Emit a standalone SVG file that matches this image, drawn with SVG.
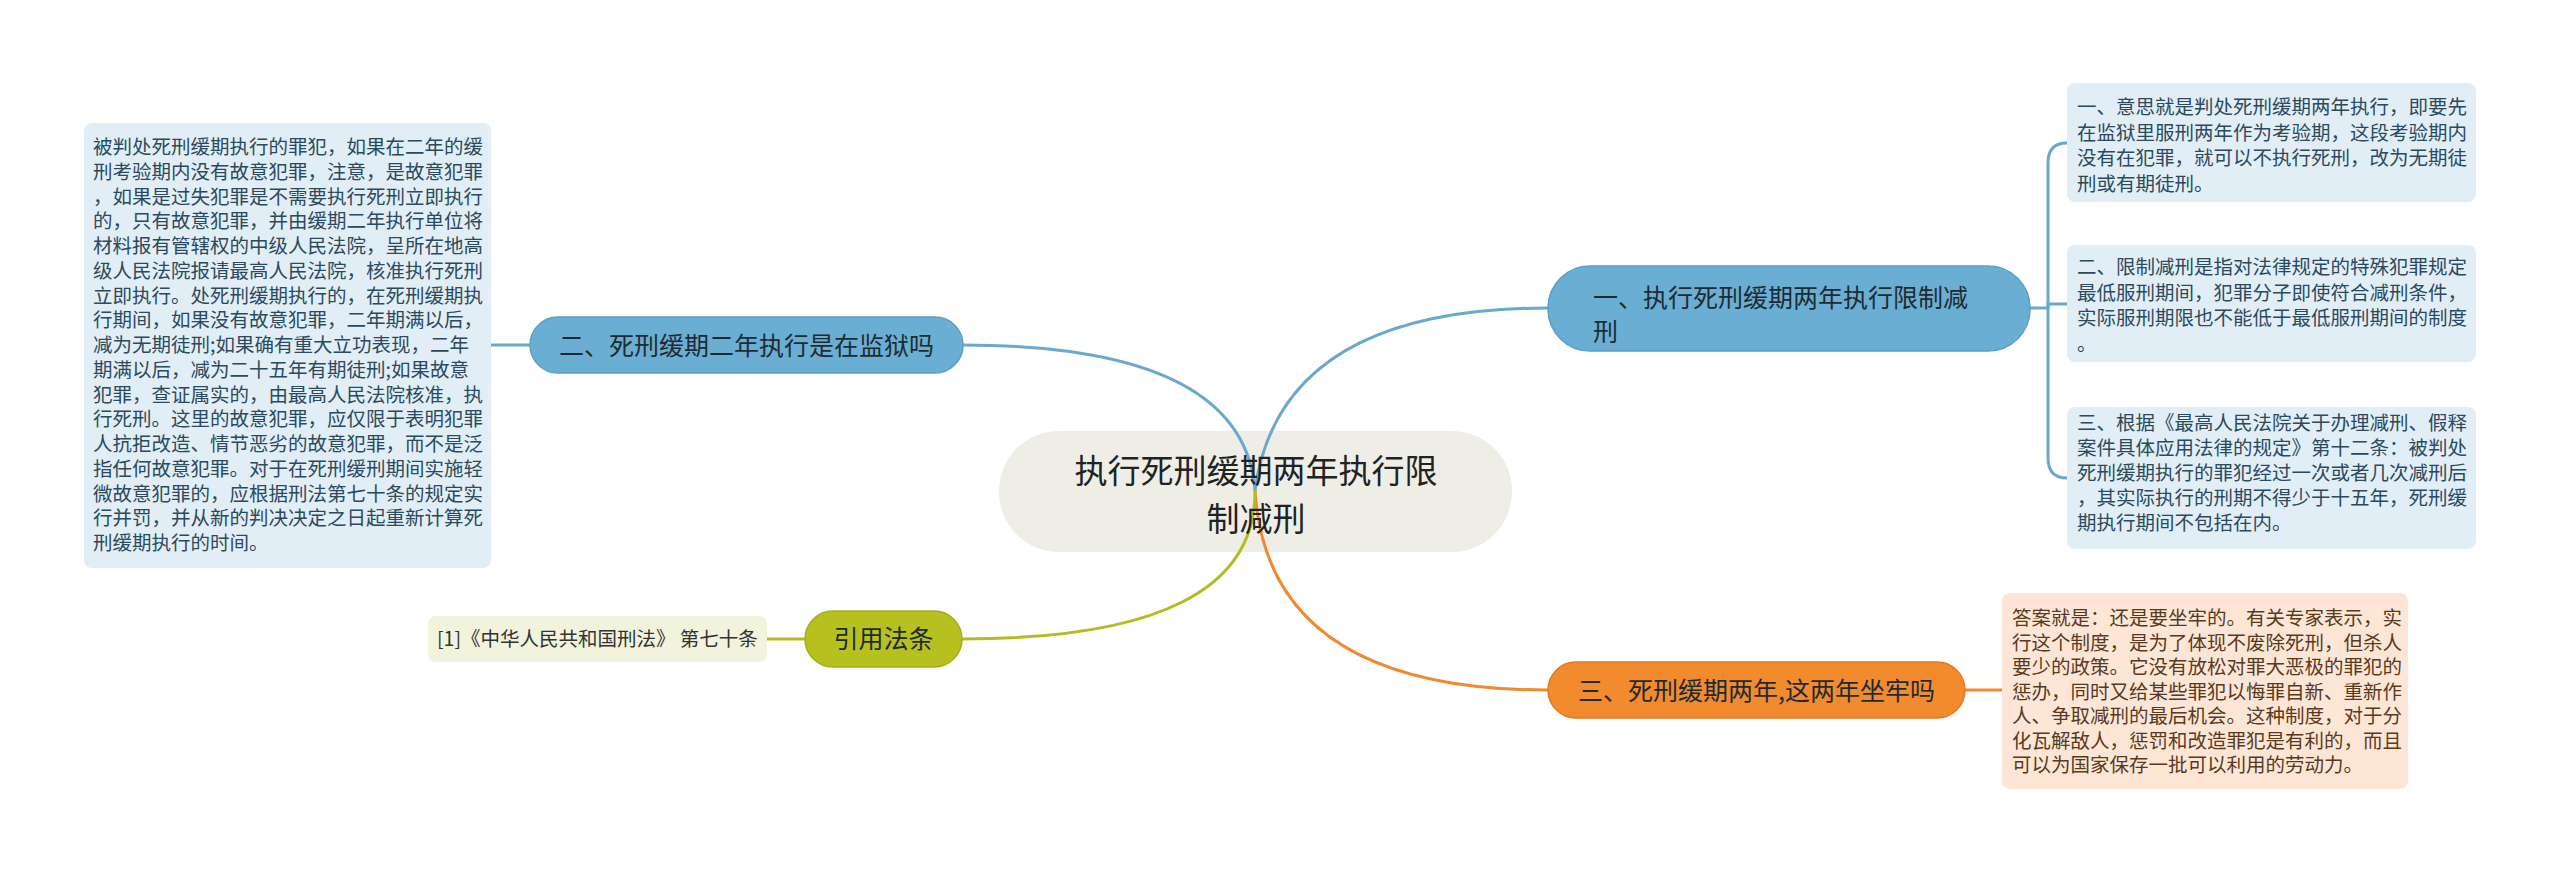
<svg xmlns="http://www.w3.org/2000/svg" width="2560" height="872" viewBox="0 0 2560 872">
<style>
text{font-family:"Noto Sans CJK SC","Noto Sans",sans-serif;}
.rootbox{fill:#eeeee6;}
.roottxt{font-size:33px;fill:#222;text-anchor:middle;}
.bnode{fill:#6aafd3;stroke:#5b9fc6;stroke-width:1.5;}
.gnode{fill:#b6c01e;stroke:#a5ae18;stroke-width:1.5;}
.onode{fill:#f28a2e;stroke:#e47a1e;stroke-width:1.5;}
.ntxt{font-size:25px;fill:#1f2b33;}
.c{text-anchor:middle;}
.bleaf{fill:#e1eef6;}
.gleaf{fill:#f1f3dc;}
.oleaf{fill:#fde6d6;}
.ltxt{font-size:19.5px;fill:#2b4a5e;}
.otxt{font-size:19.5px;fill:#5a3a1e;}
.gtxt{font-size:19.5px;fill:#333;}
.lb{fill:none;stroke:#6aa8cc;stroke-width:3;}
.lo{fill:none;stroke:#f08a2e;stroke-width:3;}
.lg{fill:none;stroke:#b3bd1f;stroke-width:3;}
</style>
<rect width="2560" height="872" fill="#ffffff"/>
<g id="root">
<rect class="rootbox" x="999" y="431" width="513" height="121" rx="60"/>
</g>
<g id="connectors">
<path class="lb" d="M1255 490 Q1280 308 1548 308"/>
<path class="lb" d="M1255 490 Q1243 345 963 345"/>
<path class="lo" d="M1255 490 Q1267 690 1548 690"/>
<path class="lg" d="M1255 490 Q1257 639 962 639"/>
<path class="lb" d="M2030 308 H2048"/>
<path class="lb" d="M2048 308 V163 Q2048 143 2067 143"/>
<path class="lb" d="M2048 308 V304 H2067"/>
<path class="lb" d="M2048 308 V458 Q2048 478 2067 478"/>
<path class="lb" d="M530 345 H491"/>
<path class="lg" d="M805 639 H767"/>
<path class="lo" d="M1965 690 H2002"/>
</g>
<g id="root-label">
<text class="roottxt" x="1256" y="483">执行死刑缓期两年执行限</text>
<text class="roottxt" x="1256" y="531">制减刑</text>
</g>
<g id="node1">
<rect class="bnode" x="1548" y="266" width="482" height="85" rx="42"/>
<text class="ntxt" x="1593" y="307">一、执行死刑缓期两年执行限制减</text>
<text class="ntxt" x="1593" y="340.5">刑</text>
</g>
<g id="node2">
<rect class="bnode" x="530" y="317" width="433" height="56" rx="28"/>
<text class="ntxt c" x="746.5" y="355">二、死刑缓期二年执行是在监狱吗</text>
</g>
<g id="node3">
<rect class="onode" x="1548" y="662" width="417" height="56" rx="28"/>
<text class="ntxt c" x="1756.5" y="700">三、死刑缓期两年,这两年坐牢吗</text>
</g>
<g id="node4">
<rect class="gnode" x="805" y="611" width="157" height="56" rx="28"/>
<text class="ntxt c" x="883.5" y="648">引用法条</text>
</g>
<g id="leaf-left">
<rect class="bleaf" x="84" y="123" width="407" height="445" rx="8"/>
<text class="ltxt" x="93">
<tspan x="93" y="154">被判处死刑缓期执行的罪犯，如果在二年的缓</tspan>
<tspan x="93" y="178.75">刑考验期内没有故意犯罪，注意，是故意犯罪</tspan>
<tspan x="93" y="203.5">，如果是过失犯罪是不需要执行死刑立即执行</tspan>
<tspan x="93" y="228.25">的，只有故意犯罪，并由缓期二年执行单位将</tspan>
<tspan x="93" y="253">材料报有管辖权的中级人民法院，呈所在地高</tspan>
<tspan x="93" y="277.75">级人民法院报请最高人民法院，核准执行死刑</tspan>
<tspan x="93" y="302.5">立即执行。处死刑缓期执行的，在死刑缓期执</tspan>
<tspan x="93" y="327.25">行期间，如果没有故意犯罪，二年期满以后，</tspan>
<tspan x="93" y="352">减为无期徒刑;如果确有重大立功表现，二年</tspan>
<tspan x="93" y="376.75">期满以后，减为二十五年有期徒刑;如果故意</tspan>
<tspan x="93" y="401.5">犯罪，查证属实的，由最高人民法院核准，执</tspan>
<tspan x="93" y="426.25">行死刑。这里的故意犯罪，应仅限于表明犯罪</tspan>
<tspan x="93" y="451">人抗拒改造、情节恶劣的故意犯罪，而不是泛</tspan>
<tspan x="93" y="475.75">指任何故意犯罪。对于在死刑缓刑期间实施轻</tspan>
<tspan x="93" y="500.5">微故意犯罪的，应根据刑法第七十条的规定实</tspan>
<tspan x="93" y="525.25">行并罚，并从新的判决决定之日起重新计算死</tspan>
<tspan x="93" y="550">刑缓期执行的时间。</tspan>
</text>
</g>
<g id="leaf-r1">
<rect class="bleaf" x="2067" y="83" width="409" height="119" rx="8"/>
<text class="ltxt">
<tspan x="2077" y="114">一、意思就是判处死刑缓期两年执行，即要先</tspan>
<tspan x="2077" y="139.5">在监狱里服刑两年作为考验期，这段考验期内</tspan>
<tspan x="2077" y="165">没有在犯罪，就可以不执行死刑，改为无期徒</tspan>
<tspan x="2077" y="190.5">刑或有期徒刑。</tspan>
</text>
</g>
<g id="leaf-r2">
<rect class="bleaf" x="2067" y="245" width="409" height="117" rx="8"/>
<text class="ltxt">
<tspan x="2077" y="274">二、限制减刑是指对法律规定的特殊犯罪规定</tspan>
<tspan x="2077" y="299.5">最低服刑期间，犯罪分子即使符合减刑条件，</tspan>
<tspan x="2077" y="325">实际服刑期限也不能低于最低服刑期间的制度</tspan>
<tspan x="2077" y="350.5">。</tspan>
</text>
</g>
<g id="leaf-r3">
<rect class="bleaf" x="2067" y="407" width="409" height="142" rx="8"/>
<text class="ltxt">
<tspan x="2077" y="430">三、根据《最高人民法院关于办理减刑、假释</tspan>
<tspan x="2077" y="455">案件具体应用法律的规定》第十二条：被判处</tspan>
<tspan x="2077" y="480">死刑缓期执行的罪犯经过一次或者几次减刑后</tspan>
<tspan x="2077" y="505">，其实际执行的刑期不得少于十五年，死刑缓</tspan>
<tspan x="2077" y="530">期执行期间不包括在内。</tspan>
</text>
</g>
<g id="leaf-o">
<rect class="oleaf" x="2002" y="593" width="406" height="196" rx="8"/>
<text class="otxt">
<tspan x="2012" y="625">答案就是：还是要坐牢的。有关专家表示，实</tspan>
<tspan x="2012" y="649.5">行这个制度，是为了体现不废除死刑，但杀人</tspan>
<tspan x="2012" y="674">要少的政策。它没有放松对罪大恶极的罪犯的</tspan>
<tspan x="2012" y="698.5">惩办，同时又给某些罪犯以悔罪自新、重新作</tspan>
<tspan x="2012" y="723">人、争取减刑的最后机会。这种制度，对于分</tspan>
<tspan x="2012" y="747.5">化瓦解敌人，惩罚和改造罪犯是有利的，而且</tspan>
<tspan x="2012" y="772">可以为国家保存一批可以利用的劳动力。</tspan>
</text>
</g>
<g id="leaf-g">
<rect class="gleaf" x="428" y="616" width="339" height="46" rx="8"/>
<text class="gtxt" x="437" y="646">[1]《中华人民共和国刑法》 第七十条</text>
</g>
</svg>
